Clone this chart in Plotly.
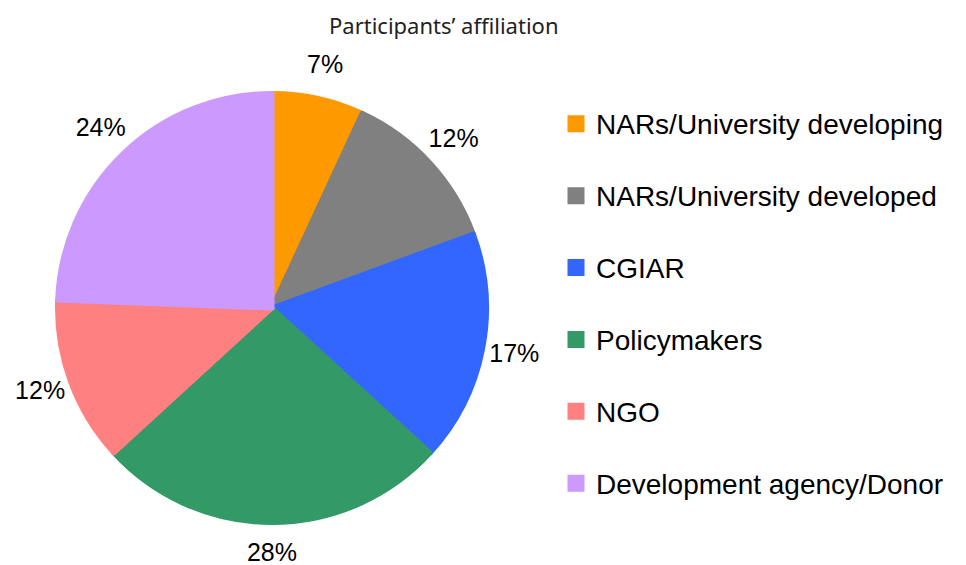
import numpy as np
import plotly.graph_objects as go

categories = [
    "NARs/University developing",
    "NARs/University developed",
    "CGIAR",
    "Policymakers",
    "NGO",
    "Development agency/Donor",
]
# slice shares as drawn
shares = [6.9, 12.5, 17.4, 26.4, 12.4, 24.4]
# percentage labels printed on the chart
pct_labels = ["7%", "12%", "17%", "28%", "12%", "24%"]
colors = ["#FF9900", "#808080", "#3366FF", "#339966", "#FF8080", "#CC99FF"]

W, H = 966, 565
OFF = 8  # page body margin
cx, cy, r = 272 - OFF, 308 - OFF, 217
r_pie = r - 2.5          # 5px stroke adds 2.5px outside
R_polar = min(cx, H - cy)  # largest circle around the centre that fits the figure
r_label = 247             # label distance from centre (px, polar radial units)

# mid-angle of each slice (clockwise from 12 o'clock) for label placement
cum = np.cumsum(shares)
mid_theta = 360 * (cum - np.array(shares) / 2) / cum[-1]


def dom(rad):
    return dict(x=[(cx - rad) / W, (cx + rad) / W],
                y=[(H - cy - rad) / H, (H - cy + rad) / H])


legend_labels = [
    "<span style='font-size:28px'>" + c + "</span><br> " for c in categories
]

fig = go.Figure()
fig.add_trace(
    go.Pie(
        labels=legend_labels,
        values=shares,
        textinfo="none",
        marker=dict(colors=colors, line=dict(width=5, color=colors)),
        sort=False,
        direction="clockwise",
        rotation=0,
        domain=dom(r_pie),
        hovertext=[c + ": " + p for c, p in zip(categories, pct_labels)],
        hoverinfo="text",
        showlegend=True,
    )
)
fig.add_trace(
    go.Scatterpolar(
        r=[r_label] * len(shares),
        theta=mid_theta,
        mode="text",
        text=pct_labels,
        textposition="middle center",
        textfont=dict(family="Liberation Sans, Arial", size=25, color="#000"),
        cliponaxis=False,
        hoverinfo="skip",
        showlegend=False,
    )
)

fig.update_layout(
    width=W,
    height=H,
    margin=dict(l=0, r=0, t=0, b=0, autoexpand=False),
    paper_bgcolor="white",
    plot_bgcolor="white",
    showlegend=True,
    polar=dict(
        domain=dom(R_polar),
        bgcolor="rgba(0,0,0,0)",
        radialaxis=dict(visible=False, range=[0, R_polar]),
        angularaxis=dict(visible=False, rotation=90, direction="clockwise"),
    ),
    legend=dict(
        x=548 / W,
        xanchor="left",
        y=(H - 92) / H,
        yanchor="top",
        valign="top",
        font=dict(family="Liberation Sans, Arial", size=26.5, color="#000"),
        bgcolor="rgba(0,0,0,0)",
    ),
    annotations=[
        dict(
            text="Participants’ affiliation",
            x=(443 - OFF) / W,
            y=(H - (25 - OFF)) / H,
            xref="paper",
            yref="paper",
            xanchor="center",
            yanchor="middle",
            showarrow=False,
            font=dict(family="Noto Sans, Open Sans", size=22, color="#222"),
        )
    ],
)

fig.write_html("out.html")
